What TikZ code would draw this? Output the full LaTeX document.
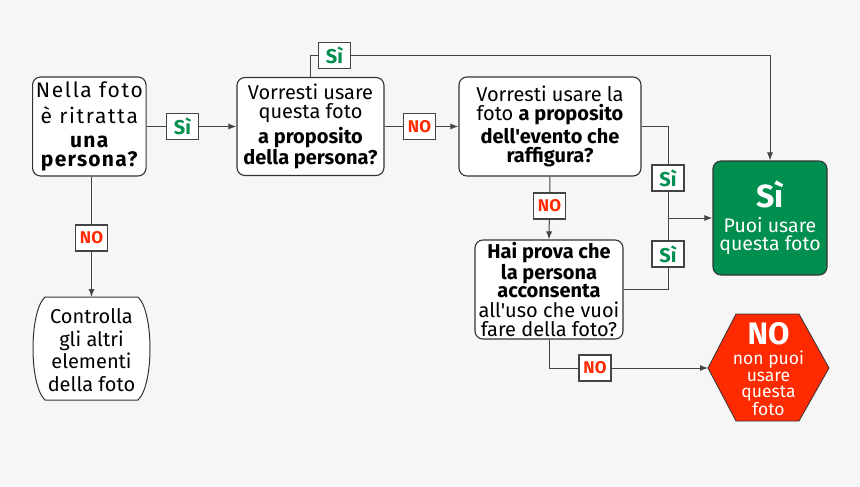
\documentclass[tikz,border=0pt]{standalone}
\usepackage{fontspec}
\setmainfont{Fira Sans}[Ligatures=TeXOff]
\newfontfamily\spacedfont{Fira Sans}[LetterSpace=8,Ligatures=TeXOff]
\newfontfamily\spacedboldfont{Fira Sans Bold}[LetterSpace=6,Ligatures=TeXOff]
\usetikzlibrary{arrows.meta}
\newcommand\myfs[2]{\fontsize{#1}{#2}\selectfont}
\definecolor{bg}{HTML}{F6F6F6}
\definecolor{okgreen}{HTML}{008F4F}
\definecolor{nored}{HTML}{FF2A00}
\definecolor{edge}{HTML}{333333}
\definecolor{wire}{HTML}{444444}
\tikzset{
  qbox/.style={draw=edge, line width=1.1pt, fill=white, rounded corners=8pt, align=center, inner sep=0pt, font=\myfs{20}{18.5}},
  wireline/.style={draw=wire, line width=1pt},
  arr/.style={wireline, -{Latex[length=8pt,width=6pt]}},
  lab/.style={draw=wire, line width=1.3pt, fill=white, inner sep=0pt, minimum width=32pt, minimum height=26pt},
  labS/.style={lab, text=okgreen, font=\myfs{20}{20}\bfseries},
  labN/.style={lab, text=nored, font=\myfs{17}{17}\bfseries},
}
\begin{document}
\begin{tikzpicture}[x=1pt,y=-1pt]
\fill[bg] (0,0) rectangle (860,487);
\useasboundingbox (0,0) rectangle (860,487);

% question boxes
\node[qbox, font=\spacedfont\myfs{21}{19}, minimum width=113.5pt, minimum height=99pt] (q1) at (89.3,126.5)
  {Nella foto\\[7pt]è ritratta\\[5pt]{\spacedboldfont una}\\{\spacedboldfont persona?}};
\node[qbox, minimum width=147pt, minimum height=98pt] (q2) at (310.5,126.5)
  {Vorresti usare\\questa foto\\[3.5pt]\textbf{a proposito}\\[0.5pt]\textbf{della persona?}};
\node[qbox, minimum width=182pt, minimum height=99pt] (q3) at (550,126.5)
  {Vorresti usare la\\[0.5pt]foto \textbf{a proposito}\\[2.5pt]\textbf{dell'evento che}\\\textbf{raffigura?}};
\node[qbox, minimum width=148pt, minimum height=99pt] (q4) at (549,289.5)
  {\textbf{Hai prova che}\\\textbf{la persona}\\\textbf{acconsenta}\\[1.5pt]all'uso che vuoi\\fare della foto?};

% yes box
\node[qbox, fill=okgreen, text=white, font=\myfs{19.5}{18.5}, minimum width=114pt, minimum height=114pt] (yes) at (770,218)
  {{\myfs{32}{32}\bfseries Sì}\\[6pt]Puoi usare\\questa foto};

% no hexagon
\fill[nored, draw=edge, line width=0.8pt] (708,368) -- (736,314) -- (799,314) -- (829,368) -- (799,421) -- (736,421) -- cycle;
\node[align=center, text=white, inner sep=0pt, font=\myfs{17.5}{16.5}] (no) at (768.5,369)
  {{\myfs{31}{31}\bfseries NO}\\[4pt]non puoi\\usare\\questa\\foto};
\coordinate (noW) at (708,368);

% controlla shape
\draw[edge, fill=white, line width=1pt] (45,297) -- (138,297) .. controls (154,312) and (154,385) .. (138,400) -- (45,400) .. controls (29,385) and (29,312) .. (45,297) -- cycle;
\node[align=center, inner sep=0pt, font=\myfs{20}{22.7}] (c5) at (91.5,350)
  {Controlla\\gli altri\\elementi\\della foto};
\coordinate (c5n) at (91.5,297);

% connectors
\draw[arr] (q1.east) -- (q2.west);
\draw[arr] (q2.north) -- ++(0,-21) -| (yes.north);
\draw[arr] (q2.east) -- (q3.west);
\coordinate (j) at (668,218);
\draw[wireline] (q3.east) -| (j);
\draw[wireline] (q4.east) -| (j);
\draw[arr] (j) -- (yes.west);
\draw[arr] (q3.south) -- (q4.north);
\draw[arr] (q4.south) |- (noW);
\draw[arr] (q1.south -| c5n) -- (c5n);

% labels
\node[labS] (l1) at (182.5,126.5) {Sì};
\node[labS] (l2) at (334.5,55.5) {Sì};
\node[labN] (l3) at (419.5,126.5) {NO};
\node[labS] (l4) at (668,178) {Sì};
\node[labS] (l5) at (668,254) {Sì};
\node[labN] (l6) at (549.5,206) {NO};
\node[labN] (l7) at (595,368) {NO};
\node[labN] (l8) at (91.5,238) {NO};
\end{tikzpicture}
\end{document}
